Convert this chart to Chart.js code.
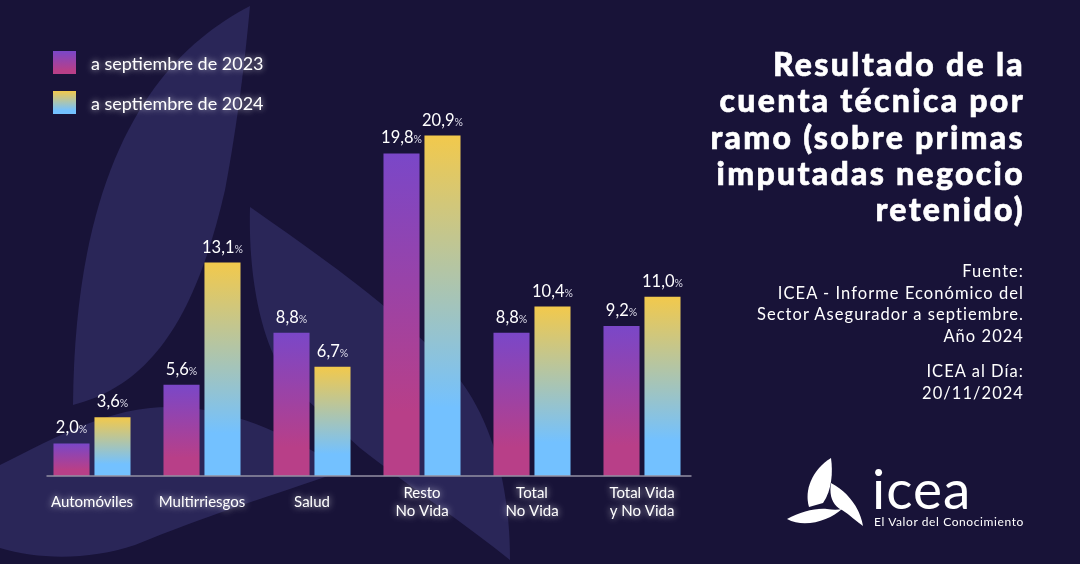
<!DOCTYPE html>
<html lang="es">
<head>
<meta charset="utf-8">
<title>Resultado de la cuenta técnica por ramo</title>
<script src="https://cdn.jsdelivr.net/npm/chart.js@4"></script>
<style>
  html, body { margin: 0; padding: 0; background: #181338; }
  #page { position: relative; width: 1080px; height: 564px; overflow: hidden; background: #181338; font-family: Lato, sans-serif; color: #fff; }
  #bg, #chartBox, #logo { position: absolute; left: 0; top: 0; }
  #chartBox { width: 1080px; height: 564px; }
  .legend { position: absolute; left: 53px; height: 23px; }
  .legend i { position: absolute; left: 0; top: 0; width: 23px; height: 23px; }
  .legend span { position: absolute; left: 38px; top: 1px; line-height: 23px; font-size: 18px; white-space: nowrap; text-shadow: 0 0 6px rgba(255,255,255,.75); }
  #title { position: absolute; right: 55px; top: 46px; width: 360px; text-align: right; font-size: 32px; font-weight: 900; line-height: 36.3px; letter-spacing: 2.3px; -webkit-text-stroke: .6px #fff; }
  .note { position: absolute; right: 56px; width: 340px; text-align: right; font-size: 16.5px; line-height: 21.5px; letter-spacing: 1.05px; }
  #tagline { position: absolute; left: 874px; top: 514px; font-size: 12px; letter-spacing: .6px; white-space: nowrap; }
  #brand { position: absolute; left: 872px; top: 458px; font-size: 55px; line-height: 60px; font-weight: 400; letter-spacing: 1px; }
</style>
</head>
<body>
<div id="page">
  <svg id="bg" width="1080" height="564" viewBox="0 0 1080 564">
    <g fill="#2a2658">
      <path d="M250 6 C165 50 75 150 73 405 C150 385 195 320 225 190 C238 120 245 60 250 6 Z"/>
      <path d="M0 465 C60 435 110 407 170 407 C230 408 280 430 345 470 C290 490 220 510 135 545 C90 560 40 560 0 548 Z"/>
      <path d="M250 207 C340 270 410 320 460 380 C490 420 510 480 510 560 C460 520 400 480 360 448 L293 387 C262 350 248 280 250 207 Z"/>
    </g>
  </svg>
  <div id="chartBox"><canvas id="chart" width="1080" height="564"></canvas></div>
  <div id="legend"></div>
  <div id="title">Resultado de la<br>cuenta técnica por<br>ramo (sobre primas<br>imputadas negocio<br>retenido)</div>
  <div class="note" style="top:261px">Fuente:<br>ICEA - Informe Económico del<br>Sector Asegurador a septiembre.<br>Año 2024</div>
  <div class="note" style="top:361px">ICEA al Día:<br>20/11/2024</div>
  <svg id="logo" width="1080" height="564" viewBox="0 0 1080 564">
    <g fill="#fff">
      <path d="M831 458 C812 470 804 490 809 507 L823 503 C832 490 833 472 831 458 Z"/>
      <path d="M831 483 C829 495 832 505 842 510 C850 515 857 522 863 526 C860 508 848 492 831 483 Z"/>
      <path d="M787 519 C800 512 815 508 827 509 C833 510 838 510 842 509 C830 520 805 529 787 519 Z"/>
    </g>
  </svg>
  <div id="brand">icea</div>
  <div id="tagline">El Valor del Conocimiento</div>
</div>
<script>
const categories = [["Automóviles"], ["Multirriesgos"], ["Salud"], ["Resto", "No Vida"], ["Total", "No Vida"], ["Total Vida", "y No Vida"]];
const values2023 = [2.0, 5.6, 8.8, 19.8, 8.8, 9.2];
const values2024 = [3.6, 13.1, 6.7, 20.9, 10.4, 11.0];
const seriesNames = ["a septiembre de 2023", "a septiembre de 2024"];
const colors2023 = ["#7a47c8", "#b83f88"];
const colors2024 = ["#f2c94c", "#73c1ff"];

// degradado de cada barra, del tope hacia la base
function barGradient(colors) {
    return function (context) {
        const chart = context.chart;
        if (context.raw === undefined || !chart.scales.y) return colors[0];
        const top = chart.scales.y.getPixelForValue(context.raw);
        const base = chart.scales.y.getPixelForValue(0);
        if (!isFinite(top) || !isFinite(base)) return colors[0];
        const g = chart.ctx.createLinearGradient(0, top, 0, base);
        g.addColorStop(0, colors[0]);
        g.addColorStop(0.8, colors[1]);
        g.addColorStop(1, colors[1]);
        return g;
    };
}

// brillo de las etiquetas del eje: los ticks se pintan antes que las barras
const tickGlow = {
    id: "tickGlow",
    beforeDraw(chart) {
        chart.ctx.save();
        chart.ctx.shadowColor = "rgba(255,255,255,0.8)";
        chart.ctx.shadowBlur = 7;
    },
    beforeDatasetsDraw(chart) {
        chart.ctx.restore();
    }
};

const baseLine = {
    id: "baseLine",
    afterDatasetsDraw(chart) {
        const ctx = chart.ctx;
        const y = chart.scales.y.getPixelForValue(0);
        ctx.save();
        ctx.strokeStyle = "#9391a3";
        ctx.lineWidth = 1.5;
        ctx.beginPath();
        ctx.moveTo(chart.scales.x.left + 9.5, y);
        ctx.lineTo(chart.scales.x.right - 5.5, y);
        ctx.stroke();
        ctx.restore();
    }
};

// etiqueta de valor con el % más pequeño
const valueLabels = {
    id: "valueLabels",
    afterDatasetsDraw(chart) {
        const ctx = chart.ctx;
        ctx.save();
        ctx.textBaseline = "alphabetic";
        ctx.textAlign = "left";
        chart.data.datasets.forEach((ds, i) => {
            chart.getDatasetMeta(i).data.forEach((bar, j) => {
                const txt = ds.data[j].toFixed(1).replace(".", ",");
                ctx.font = "16.5px Lato";
                const w1 = ctx.measureText(txt).width;
                ctx.font = "10.5px Lato";
                const w2 = ctx.measureText("%").width;
                const x = bar.x - (w1 + w2) / 2;
                const y = bar.y - 10;
                ctx.fillStyle = "#ffffff";
                ctx.font = "16.5px Lato";
                ctx.fillText(txt, x, y);
                ctx.fillStyle = "#dcdbe8";
                ctx.font = "10.5px Lato";
                ctx.fillText("%", x + w1, y);
            });
        });
        ctx.restore();
    }
};

document.getElementById("legend").innerHTML = seriesNames.map((name, i) => {
    const c = i === 0 ? colors2023 : colors2024;
    return `<div class="legend" style="top:${i === 0 ? 51 : 91}px"><i style="background:linear-gradient(${c[0]},${c[1]} 85%)"></i><span>${name}</span></div>`;
}).join("");

new Chart(document.getElementById("chart"), {
    type: "bar",
    data: {
        labels: categories,
        datasets: [
            { label: seriesNames[0], data: values2023, backgroundColor: barGradient(colors2023) },
            { label: seriesNames[1], data: values2024, backgroundColor: barGradient(colors2024) }
        ]
    },
    options: {
        responsive: false,
        animation: false,
        devicePixelRatio: 1,
        categoryPercentage: 0.745,
        barPercentage: 0.88,
        layout: { padding: { left: 37, right: 383, top: 85, bottom: 0 } },
        plugins: { legend: { display: false }, tooltip: { enabled: false } },
        scales: {
            x: {
                grid: { display: false },
                border: { display: false },
                afterFit(scale) { scale.height = 88; },
                ticks: {
                    color: "#ffffff",
                    font: { family: "Lato", size: 15 },
                    padding: 9,
                    maxRotation: 0,
                    autoSkip: false,
                    crossAlign: "center"
                }
            },
            y: { display: false, min: 0, max: 24 }
        }
    },
    plugins: [tickGlow, baseLine, valueLabels]
});
</script>
</body>
</html>
